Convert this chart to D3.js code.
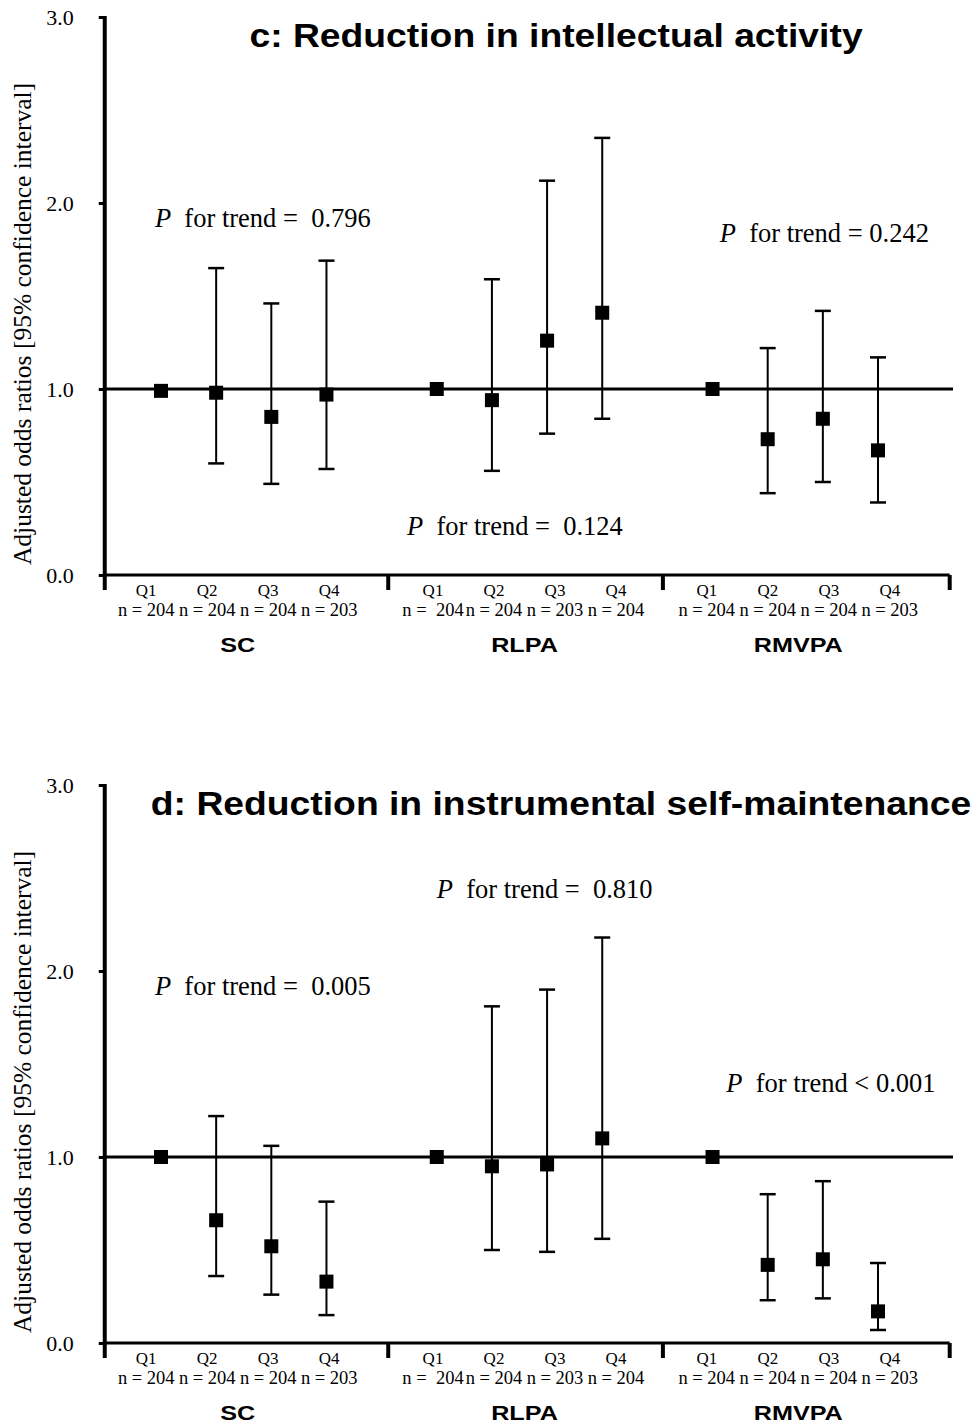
<!DOCTYPE html>
<html>
<head>
<meta charset="utf-8">
<script src="https://cdn.jsdelivr.net/npm/d3@7/dist/d3.min.js"></script>
<style>
  body{ margin:0; background:#fff; }
  text{ white-space:pre; }
  .serif{ font-family:"Liberation Serif","Times New Roman",serif; }
  .sans{ font-family:"Liberation Sans",Arial,sans-serif; font-weight:bold; }
</style>
</head>
<body>
<svg id="chart" width="971" height="1425"></svg>
<script>
// categories
var groups = [ "SC", "RLPA", "RMVPA" ];
var quartiles = [ "Q1", "Q2", "Q3", "Q4" ];
var y_ticks = [ 0, 1, 2, 3 ];

// panel c
var title_c = "c: Reduction in intellectual activity";
var n_c = [ "n = 204", "n = 204", "n = 204", "n = 203",
            "n =  204", "n = 204", "n = 203", "n = 204",
            "n = 204", "n = 204", "n = 204", "n = 203" ];
var or_c  = [ 0.99, 0.98, 0.85, 0.97,  1.00, 0.94, 1.26, 1.41,  1.00, 0.73, 0.84, 0.67 ];
var low_c = [ null, 0.60, 0.49, 0.57,  null, 0.56, 0.76, 0.84,  null, 0.44, 0.50, 0.39 ];
var up_c  = [ null, 1.65, 1.46, 1.69,  null, 1.59, 2.12, 2.35,  null, 1.22, 1.42, 1.17 ];
var trend_c = [ "=  0.796", "=  0.124", "= 0.242" ];

// panel d
var title_d = "d: Reduction in instrumental self-maintenance";
var n_d = [ "n = 204", "n = 204", "n = 204", "n = 203",
            "n =  204", "n = 204", "n = 203", "n = 204",
            "n = 204", "n = 204", "n = 204", "n = 203" ];
var or_d  = [ 1.00, 0.66, 0.52, 0.33,  1.00, 0.95, 0.96, 1.10,  1.00, 0.42, 0.45, 0.17 ];
var low_d = [ null, 0.36, 0.26, 0.15,  null, 0.50, 0.49, 0.56,  null, 0.23, 0.24, 0.07 ];
var up_d  = [ null, 1.22, 1.06, 0.76,  null, 1.81, 1.90, 2.18,  null, 0.80, 0.87, 0.43 ];
var trend_d = [ "=  0.810", "=  0.005", "< 0.001" ];

var LAYOUT = {
  c: { top: 0,   title_x: 556, trend_at: [ [ -0.11, 1.87 ], [ 4.46, 0.215 ], [ 10.13, 1.79 ] ] },
  d: { top: 768, title_x: 561, trend_at: [ [ 5.0, 2.39 ], [ -0.11, 1.87 ], [ 10.25, 1.35 ] ] }
};
var group_shift = [ -6, 5, 3 ];

var svg = d3.select( "#chart" );

function drawPanel( title, n_labels, or_vals, lows, ups, trends, lay ){
  var g = svg.append( "g" ).attr( "transform", "translate(0," + lay.top + ")" );

  var x = d3.scaleLinear().domain( [ 0, 13 ] ).range( [ 161, 878 ] );
  var y = d3.scaleLinear().domain( [ 0, 3 ] ).range( [ 575, 17 ] );

  var slot = function( i ){ return Math.floor( i / 4 ) * 5 + i % 4; };
  var label_x = function( i ){
    var gi = Math.floor( i / 4 ), q = i % 4;
    return x( gi * 5 + 1.5 ) + group_shift[ gi ] + ( q - 1.5 ) * 61;
  };

  var rows = or_vals.map( function( v, i ){
    return { or: v, low: lows[ i ], up: ups[ i ], pos: slot( i ), n: n_labels[ i ], q: quartiles[ i % 4 ], i: i };
  } );

  // title
  g.append( "text" )
    .classed( "sans", true )
    .attr( "transform", "translate(" + lay.title_x + ",47) scale(1.13,1)" )
    .attr( "text-anchor", "middle" )
    .attr( "font-size", 33 )
    .text( title );

  // y axis title
  g.append( "text" )
    .classed( "serif", true )
    .attr( "transform", "translate(31," + 324 + ") rotate(-90)" )
    .attr( "text-anchor", "middle" )
    .attr( "font-size", 25.5 )
    .text( "Adjusted odds ratios [95% confidence interval]" );

  // y axis
  var x_left = x( -1.02 ), x_right = x( 14.3 );
  var yAxis = d3.axisLeft( y ).tickValues( y_ticks ).tickSize( 6 ).tickFormat( d3.format( ".1f" ) );
  var ga = g.append( "g" ).attr( "transform", "translate(" + x_left + ",0)" ).call( yAxis );
  ga.select( ".domain" ).remove();
  ga.selectAll( ".tick line" ).attr( "stroke", "#000" ).attr( "stroke-width", 3 );
  ga.selectAll( ".tick text" )
    .classed( "serif", true )
    .attr( "x", -31 )
    .attr( "font-size", 22 )
    .attr( "fill", "#000" );

  g.append( "line" )
    .attr( "x1", x_left ).attr( "x2", x_left )
    .attr( "y1", y( 3 ) - 1 ).attr( "y2", y( 0 ) + 15 )
    .attr( "stroke", "#000" ).attr( "stroke-width", 4 );

  // x axis with group dividers
  g.append( "line" )
    .attr( "x1", x_left ).attr( "x2", x_right )
    .attr( "y1", y( 0 ) ).attr( "y2", y( 0 ) )
    .attr( "stroke", "#000" ).attr( "stroke-width", 3 );

  g.selectAll( ".divider" )
    .data( [ 4.12, 9.1, 14.3 ] )
    .enter().append( "line" )
    .classed( "divider", true )
    .attr( "x1", function( d ){ return x( d ); } )
    .attr( "x2", function( d ){ return x( d ); } )
    .attr( "y1", y( 0 ) ).attr( "y2", y( 0 ) + 15 )
    .attr( "stroke", "#000" ).attr( "stroke-width", 4 );

  // reference line at OR = 1
  g.append( "line" )
    .attr( "x1", x_left ).attr( "x2", x( 14.36 ) )
    .attr( "y1", y( 1 ) ).attr( "y2", y( 1 ) )
    .attr( "stroke", "#000" ).attr( "stroke-width", 3 );

  // error bars
  var bars = rows.filter( function( d ){ return d.low != null; } );
  var eb = g.selectAll( ".err" ).data( bars ).enter().append( "g" ).classed( "err", true );
  eb.append( "line" )
    .attr( "x1", function( d ){ return x( d.pos ); } )
    .attr( "x2", function( d ){ return x( d.pos ); } )
    .attr( "y1", function( d ){ return y( d.low ); } )
    .attr( "y2", function( d ){ return y( d.up ); } )
    .attr( "stroke", "#000" ).attr( "stroke-width", 2 );
  [ "low", "up" ].forEach( function( k ){
    eb.append( "line" )
      .attr( "x1", function( d ){ return x( d.pos ) - 8; } )
      .attr( "x2", function( d ){ return x( d.pos ) + 8; } )
      .attr( "y1", function( d ){ return y( d[ k ] ); } )
      .attr( "y2", function( d ){ return y( d[ k ] ); } )
      .attr( "stroke", "#000" ).attr( "stroke-width", 2.5 );
  } );

  // markers
  g.selectAll( ".pt" ).data( rows ).enter().append( "rect" )
    .classed( "pt", true )
    .attr( "x", function( d ){ return x( d.pos ) - 7; } )
    .attr( "y", function( d ){ return y( d.or ) - 7; } )
    .attr( "width", 14 ).attr( "height", 14 )
    .attr( "fill", "#000" );

  // quartile and n labels
  g.selectAll( ".qlab" ).data( rows ).enter().append( "text" )
    .classed( "serif", true )
    .attr( "x", function( d ){ return label_x( d.i ); } )
    .attr( "y", 596 )
    .attr( "text-anchor", "middle" )
    .attr( "font-size", 17 )
    .text( function( d ){ return d.q; } );

  g.selectAll( ".nlab" ).data( rows ).enter().append( "text" )
    .classed( "serif", true )
    .attr( "x", function( d ){ return label_x( d.i ); } )
    .attr( "y", 616 )
    .attr( "text-anchor", "middle" )
    .attr( "font-size", 18.5 )
    .text( function( d ){ return d.n; } );

  // group names
  g.selectAll( ".grp" ).data( groups ).enter().append( "text" )
    .classed( "sans", true )
    .attr( "transform", function( d, gi ){
      return "translate(" + ( x( gi * 5 + 1.5 ) + group_shift[ gi ] ) + ",652) scale(1.2,1)";
    } )
    .attr( "text-anchor", "middle" )
    .attr( "font-size", 21 )
    .text( function( d ){ return d; } );

  // P for trend
  trends.forEach( function( t, k ){
    var at = lay.trend_at[ k ];
    var tx = g.append( "text" )
      .classed( "serif", true )
      .attr( "x", x( at[ 0 ] ) )
      .attr( "y", y( at[ 1 ] ) )
      .attr( "font-size", 26.5 );
    tx.append( "tspan" ).attr( "font-style", "italic" ).text( "P" );
    tx.append( "tspan" ).text( "  for trend " + t );
  } );
}

drawPanel( title_c, n_c, or_c, low_c, up_c, trend_c, LAYOUT.c );
drawPanel( title_d, n_d, or_d, low_d, up_d, trend_d, LAYOUT.d );
</script>
</body>
</html>
